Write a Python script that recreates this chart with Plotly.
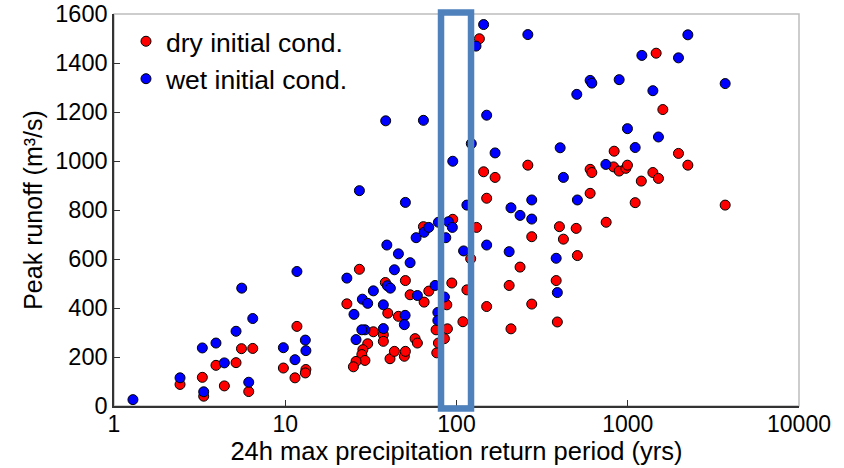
import plotly.graph_objects as go

# Return period (yrs) and peak runoff (m3/s), dry initial conditions
dry_T = [2.43, 3.28, 3.34, 3.94, 4.41, 5.16, 5.55, 6.12, 6.46, 9.75, 11.4, 11.7, 13.2, 13.1,
         22.9, 27.1, 38.4, 50.3, 53.6, 64.7, 68.9, 93.9, 115, 150, 121, 131, 150, 144, 64.1,
         95.1, 45.8, 39.7, 37.4, 37.4, 32.7, 30.3, 28.4, 28.0, 29.2, 25.9, 25.0, 40.9, 43.4,
         49.6, 50.3, 57.3, 59.1, 76.7, 78.4, 76, 88.5, 85.0, 87.8, 109, 168, 261, 399, 500,
         421, 275, 235, 508, 382, 203, 275, 208, 388, 136, 833, 603, 617, 826, 891, 975, 996,
         1200, 1105, 603, 748, 1465, 1603, 1978, 2244, 1402, 1511, 3706]
dry_Q = [88, 117, 40, 166, 82, 177, 234, 59, 235, 155, 115, 325, 149, 135,
         417, 558, 504, 512, 454, 424, 469, 502, 474, 406, 601, 729, 848, 956, 732,
         762, 366, 379, 291, 264, 303, 254, 230, 210, 186, 182, 160, 193, 223,
         203, 223, 275, 257, 217, 257, 311, 315, 275, 413, 344, 933, 983, 732, 725,
         681, 691, 567, 614, 512, 492, 416, 315, 343, 1499, 1040, 966, 953, 976, 959, 970, 983,
         918, 830, 868, 750, 1440, 1210, 1031, 983, 953, 929, 820]

# wet initial conditions
wet_T = [1.29, 2.43, 3.28, 3.34, 3.94, 4.41, 5.16, 5.57, 6.12, 6.46, 9.75, 11.4, 11.7, 13.1,
         13.2, 22.9, 27.1, 50.3, 25.2, 28.2, 30.3, 32.7, 39.2, 45.8, 53.6, 43.4, 39.5, 41.1,
         59.1, 75.0, 150, 110, 115, 58.1, 64.7, 68.9, 78.4, 89.7, 94.6, 86.6, 85.0, 77.8, 77.8,
         50.1, 49.6, 37.4, 37.4, 29.2, 28.0, 25.9, 95.1, 168, 403, 421, 275, 208, 235, 275,
         508, 203, 382, 388, 64.1, 150, 122, 504, 603, 617, 891, 996, 1105, 745, 144, 130,
         261, 38.6, 2244, 1209, 1978, 1402, 3706, 1511]
wet_Q = [26, 115, 237, 58, 257, 176, 305, 481, 97, 357, 238, 189, 549, 269,
         226, 522, 879, 831, 374, 436, 419, 470, 657, 621, 585, 556, 491, 481,
         451, 492, 657, 633, 820, 687, 709, 729, 750, 752, 729, 687, 445, 382, 349,
         370, 332, 413, 316, 311, 311, 271, 999, 1033, 1054, 933, 841, 809, 778, 763,
         841, 630, 603, 463, 1166, 1187, 1071, 1272, 1329, 1318, 1332, 1132, 1055, 986, 1557, 1469,
         1516, 1164, 1515, 1431, 1421, 1287, 1316, 1098]

x_tickvals = [1, 10, 100, 1000, 10000]
x_ticktext = ["1", "10", "100", "1000", "10000"]
y_tickvals = [0, 200, 400, 600, 800, 1000, 1200, 1400, 1600]

FONT = "Liberation Sans, Arial, sans-serif"

fig = go.Figure()
fig.add_trace(go.Scatter(
    x=dry_T, y=dry_Q, mode="markers", name="dry initial cond.", legendgroup="dry",
    marker=dict(size=10, color="#FF0000", line=dict(color="#000000", width=1)),
    cliponaxis=False))
fig.add_trace(go.Scatter(
    x=wet_T, y=wet_Q, mode="markers", name="wet initial cond.", legendgroup="wet",
    marker=dict(size=10, color="#0000FF", line=dict(color="#000000", width=1)),
    cliponaxis=False))

# grey frame (top/right)
fig.add_shape(type="rect", xref="paper", yref="paper", x0=0, x1=1, y0=0, y1=1,
              line=dict(color="#BDBDBD", width=1.5), layer="below")
# highlight box around the 100-year return period
fig.add_shape(type="rect", xref="paper", yref="paper", x0=0.4774, x1=0.5212,
              y0=-0.0064, y1=1.0038, line=dict(color="#4F81BD", width=6.5),
              fillcolor="rgba(0,0,0,0)")

fig.update_layout(
    template="none",
    width=844, height=468,
    margin=dict(l=114, r=45, t=14, b=62, autoexpand=False),
    paper_bgcolor="white", plot_bgcolor="white",
    font=dict(family=FONT, size=23, color="#000000"),
    showlegend=True,
    legend=dict(x=0.0175, y=0.991, xanchor="left", yanchor="top",
                bgcolor="rgba(0,0,0,0)", borderwidth=0, font=dict(size=26.5),
                traceorder="grouped", tracegroupgap=0, itemwidth=30),
    xaxis=dict(type="log", range=[0, 4], tickvals=x_tickvals, ticktext=x_ticktext,
               automargin=False, showgrid=False, zeroline=False, showline=True,
               linecolor="#333333", linewidth=1.5, ticks="inside", ticklen=6,
               tickcolor="#333333", tickfont=dict(size=23), ticklabelstandoff=-3,
               title=dict(text="24h max precipitation return period (yrs)", standoff=5,
                          font=dict(size=25.5))),
    yaxis=dict(range=[0, 1600], tickvals=y_tickvals, automargin=False, showgrid=False,
               zeroline=False, showline=True, linecolor="#333333", linewidth=1.5,
               ticks="inside", ticklen=6, tickcolor="#333333", tickfont=dict(size=23.5),
               title=dict(text="Peak runoff (m³/s)", standoff=6, font=dict(size=25))),
)

fig.write_html("out.html", config={"displayModeBar": False},
               post_script="document.body.style.margin='0';")
